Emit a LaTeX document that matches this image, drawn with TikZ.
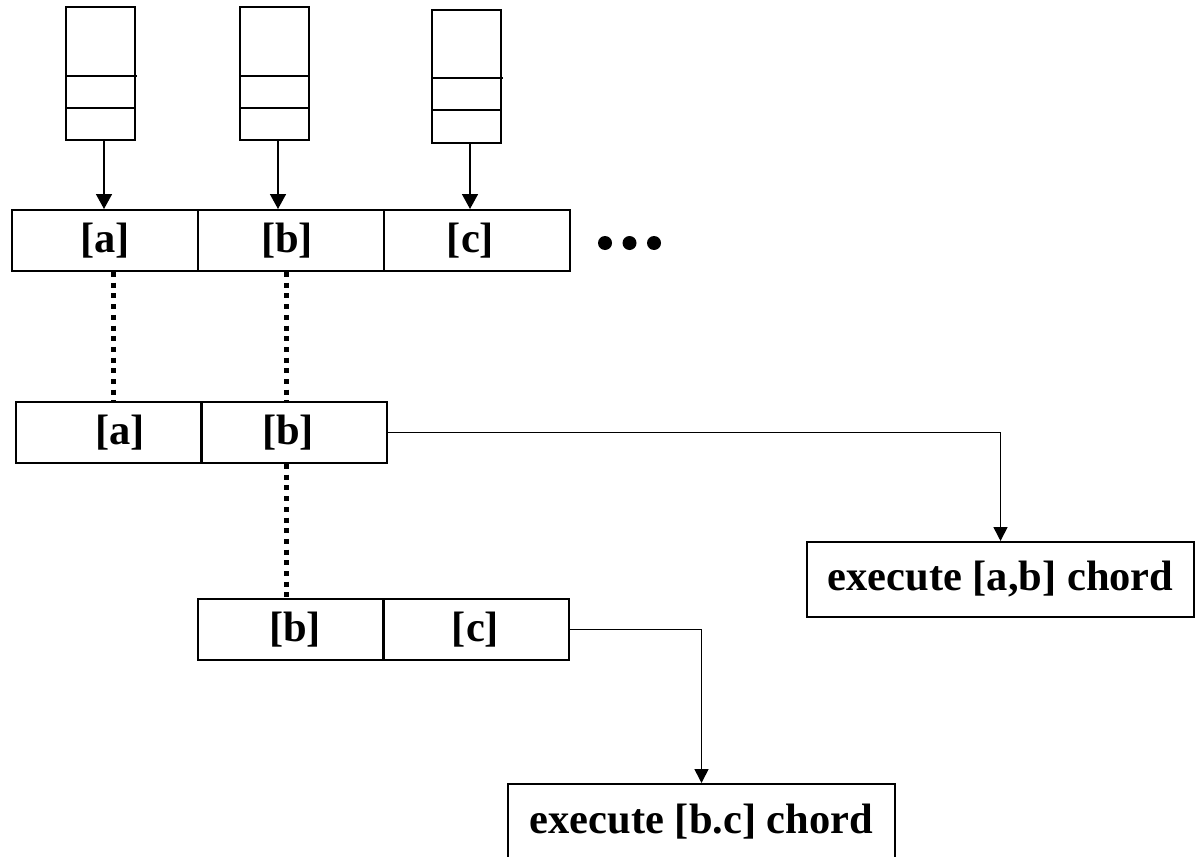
\documentclass[tikz,border=0pt]{standalone}
\usepackage{fontspec}
\setmainfont{Liberation Serif}
\usetikzlibrary{arrows.meta}

\begin{document}
\begin{tikzpicture}[x=1pt,y=-1pt,
  lbl/.style={font=\fontsize{42.5}{50}\selectfont\bfseries},
  queue/.style={draw, line width=2pt, minimum width=69pt, minimum height=133pt, inner sep=0pt},
  cell/.style={draw, line width=2pt, minimum width=186pt, minimum height=61pt, inner sep=0pt, lbl},
  action/.style={draw, line width=2pt, minimum width=387pt, minimum height=75pt, inner sep=0pt, lbl},
  feed/.style={line width=1.6pt, -{Triangle[length=15pt,width=16pt]}},
  link/.style={line width=1.6pt, -{Triangle[length=14pt,width=14pt]}},
  match/.style={line width=5pt, dash pattern=on 5pt off 5.7pt}]

\useasboundingbox (0,0) rectangle (1198,856);

% input queues
\node[queue] (q1) at (100.5,73.5) {};
\node[queue] (q2) at (274,73.5) {};
\node[queue] (q3) at (466.5,76.5) {};
\foreach \q/\ya/\yb/\xl/\xr in {q1/76/108/66/135, q2/76/108/240/308, q3/78/110/432/501}{
  \draw[line width=1.6pt] (\xl,\ya) -- (\xr+2,\ya);
  \draw[line width=1.6pt] (\xl,\yb) -- (\xr,\yb);
}

% first row of cells
\node[cell] (r1a) at (105,240.5) {[a]};
\node[cell] (r1b) at (291,240.5) {[b]\hspace*{8pt}};
\node[cell] (r1c) at (476.5,240.5) {[c]\hspace*{12pt}};

% continuation marks
\fill (605,243) circle (7pt);
\fill (629.5,243) circle (7pt);
\fill (654,243) circle (7pt);

% second row of cells
\node[cell] (r2a) at (108.5,432.5) {\hspace*{23pt}[a]};
\node[cell] (r2b) at (293.5,432.5) {[b]\hspace*{11pt}};

% third row of cells
\node[cell] (r3b) at (290.5,629.5) {\hspace*{9pt}[b]};
\node[cell] (r3c) at (475.5,629.5) {[c]};

% chord actions
\node[action] (x1) at (1000.5,579.5) {execute [a,b] chord};
\node[action] (x2) at (701.5,821.5) {execute [b.c] chord};

% queues feed the first row
\draw[feed] ([xshift=3.5pt]q1.south) -- ([xshift=3.5pt]q1.south |- r1a.north);
\draw[feed] ([xshift=4pt]q2.south) -- ([xshift=4pt]q2.south |- r1b.north);
\draw[feed] ([xshift=3.5pt]q3.south) -- ([xshift=3.5pt]q3.south |- r1c.north);

% matched columns
\coordinate (ca) at (113,0);
\coordinate (cb) at (286,0);
\draw[match] (ca |- r1a.south) -- (ca |- r2a.north);
\draw[match] (cb |- r1b.south) -- (cb |- r2b.north);
\draw[match] (cb |- r2b.south) -- (cb |- r3b.north);

% completed chords trigger execution
\draw[link] (r2b.east) -| (x1.north);
\draw[link] (r3c.east) -| (x2.north);

\end{tikzpicture}
\end{document}
